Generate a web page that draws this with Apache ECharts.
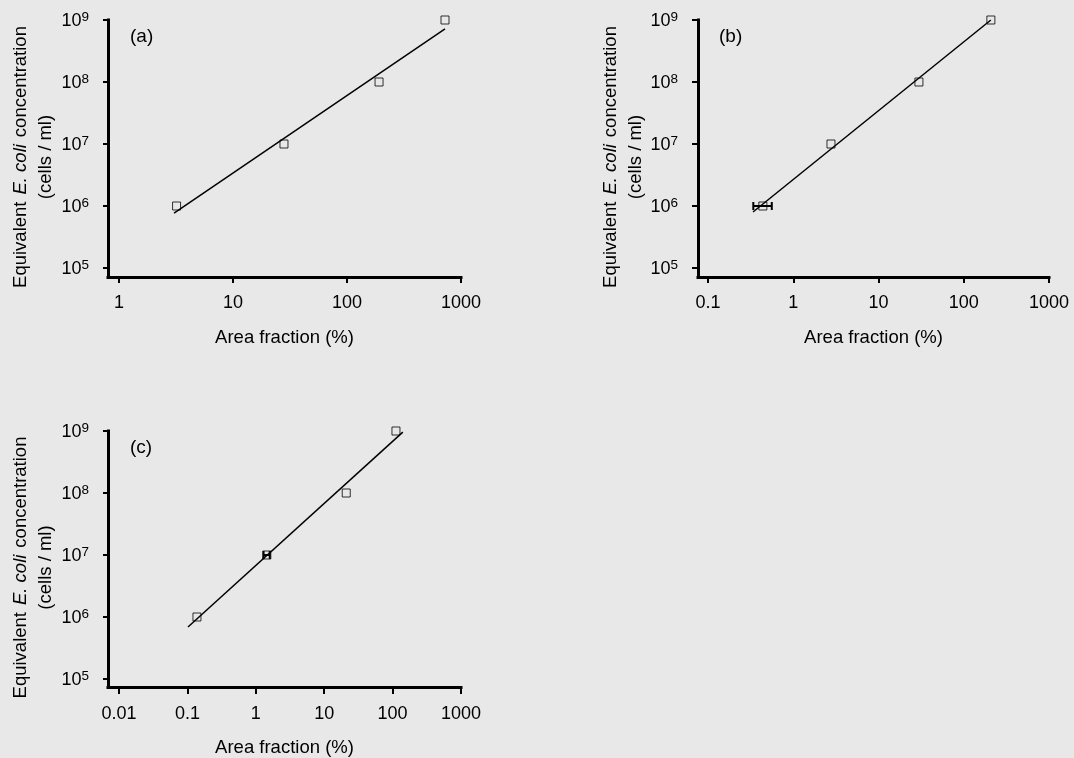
<!DOCTYPE html>
<html><head><meta charset="utf-8">
<script src="https://cdn.jsdelivr.net/npm/echarts@6/dist/echarts.min.js"></script>
<style>html,body{margin:0;padding:0;background:#e8e8e8}#c{width:1074px;height:758px}</style>
</head><body><div id="c"></div>
<script>
// ---- data ----
const panelLabels = ['(a)', '(b)', '(c)'];
const concentration = [1e6, 1e7, 1e8, 1e9];
const areaA = [3.2, 28, 191, 724];
const areaB = [0.44, 2.77, 29.8, 208];
const areaC = [0.138, 1.45, 21, 112];
const fitA = [[3.04, 7.7e5], [724, 7.16e8]];
const fitB = [[0.337, 8.0e5], [208, 1e9]];
const fitC = [[0.102, 6.9e5], [141, 9.6e8]];
const errA = [];
const errB = [[0.44, 1e6, 0.34, 0.56]];
const errC = [[1.45, 1e7, 1.3, 1.6]];
const xMinA = 1, xMinB = 0.1, xMinC = 0.01, xMax = 1000;
const yMin = 1e5, yMax = 1e9;
const xTitle = 'Area fraction (%)';
const yTitle = 'Equivalent{i|E. coli}concentration\n(cells / ml)';

// ---- layout ----
const FONT = 'Liberation Sans, Arial, sans-serif';
const panels = [
  {area: areaA, fit: fitA, err: errA, xMin: xMinA,
   lineGrid: {left: 108, top: 20, width: 353, height: 257},
   dataGrid: {left: 119, top: 20, width: 342, height: 248},
   label: {left: 130, top: 27}},
  {area: areaB, fit: fitB, err: errB, xMin: xMinB,
   lineGrid: {left: 698, top: 20, width: 351, height: 257},
   dataGrid: {left: 708, top: 20, width: 341, height: 248},
   label: {left: 719, top: 27}},
  {area: areaC, fit: fitC, err: errC, xMin: xMinC,
   lineGrid: {left: 108, top: 431, width: 353, height: 257},
   dataGrid: {left: 119, top: 431, width: 342, height: 248},
   label: {left: 130, top: 438}}
];

function xFmt(v) {
  const e = Math.round(Math.log10(v));
  return e >= 0 ? String(Math.pow(10, e)) : Math.pow(10, e).toFixed(-e);
}
function yFmt(v) {
  return '{b|10}{s|' + Math.round(Math.log10(v)) + '}';
}

const grid = [], xAxis = [], yAxis = [], series = [], title = [];
const axisLineStyle = {color: '#000', width: 3, cap: 'square'};

panels.forEach((p, i) => {
  const gl = 2 * i, gd = 2 * i + 1;
  grid.push(p.lineGrid, p.dataGrid);
  title.push({text: panelLabels[i], left: p.label.left, top: p.label.top, padding: 0,
    textStyle: {fontSize: 19, fontWeight: 'normal', color: '#000', fontFamily: FONT}});
  // frame axes (axis lines + titles)
  xAxis.push({gridIndex: gl, type: 'value', min: 0, max: 1,
    axisLine: {lineStyle: axisLineStyle}, axisTick: {show: false}, axisLabel: {show: false},
    splitLine: {show: false},
    name: xTitle, nameLocation: 'middle', nameGap: 51,
    nameTextStyle: {fontSize: 18.5, color: '#000', fontFamily: FONT}});
  yAxis.push({gridIndex: gl, type: 'value', min: 0, max: 1,
    axisLine: {lineStyle: axisLineStyle}, axisTick: {show: false}, axisLabel: {show: false},
    splitLine: {show: false},
    name: yTitle, nameLocation: 'middle', nameGap: 50, nameRotate: 90,
    nameTextStyle: {fontSize: 18.5, color: '#000', fontFamily: FONT, lineHeight: 25,
      padding: [0, 17, 0, 0],
      rich: {i: {fontSize: 18.5, fontStyle: 'italic', color: '#000', fontFamily: FONT, lineHeight: 25, padding: [0, 7, 0, 7]}}}});
  // data axes (log scales, ticks, labels)
  xAxis.push({gridIndex: gd, type: 'log', logBase: 10, min: p.xMin, max: xMax, offset: 9,
    axisLine: {show: false},
    axisTick: {show: true, length: 6, lineStyle: {color: '#000', width: 2}},
    axisLabel: {margin: 17, fontSize: 18, color: '#000', fontFamily: FONT, formatter: xFmt},
    splitLine: {show: false}});
  yAxis.push({gridIndex: gd, type: 'log', logBase: 10, min: yMin, max: yMax, offset: 11,
    axisLine: {show: false},
    axisTick: {show: true, length: 5, lineStyle: {color: '#000', width: 2}},
    axisLabel: {margin: 19, color: '#000', fontFamily: FONT, formatter: yFmt,
      rich: {
        b: {fontSize: 18, lineHeight: 21, color: '#000', fontFamily: FONT, verticalAlign: 'bottom'},
        s: {fontSize: 13.5, lineHeight: 14, color: '#000', fontFamily: FONT, verticalAlign: 'top', padding: [1, 0, 0, 0]}
      }},
    splitLine: {show: false}});

  series.push({type: 'line', xAxisIndex: gd, yAxisIndex: gd, data: p.fit, symbol: 'none',
    lineStyle: {color: '#000', width: 1.5}, z: 2, silent: true});
  series.push({type: 'scatter', xAxisIndex: gd, yAxisIndex: gd,
    data: p.area.map((x, j) => [x, concentration[j]]),
    symbol: 'rect', symbolSize: 8,
    itemStyle: {color: 'rgba(0,0,0,0)', borderColor: '#000', borderWidth: 1}, z: 3});
  if (p.err.length) {
    series.push({type: 'custom', xAxisIndex: gd, yAxisIndex: gd, data: p.err, z: 4,
      renderItem: function (params, api) {
        const y = api.value(1);
        const a = api.coord([api.value(2), y]);
        const b = api.coord([api.value(3), y]);
        const st = {stroke: '#000', lineWidth: 2};
        return {type: 'group', children: [
          {type: 'line', shape: {x1: a[0], y1: a[1], x2: b[0], y2: b[1]}, style: st},
          {type: 'line', shape: {x1: a[0], y1: a[1] - 4, x2: a[0], y2: a[1] + 4}, style: st},
          {type: 'line', shape: {x1: b[0], y1: b[1] - 4, x2: b[0], y2: b[1] + 4}, style: st}
        ]};
      }});
  }
});

const chart = echarts.init(document.getElementById('c'), null, {renderer: 'canvas'});
chart.setOption({
  backgroundColor: '#e8e8e8',
  animation: false,
  textStyle: {fontFamily: FONT},
  title, grid, xAxis, yAxis, series
});
</script>
</body></html>
